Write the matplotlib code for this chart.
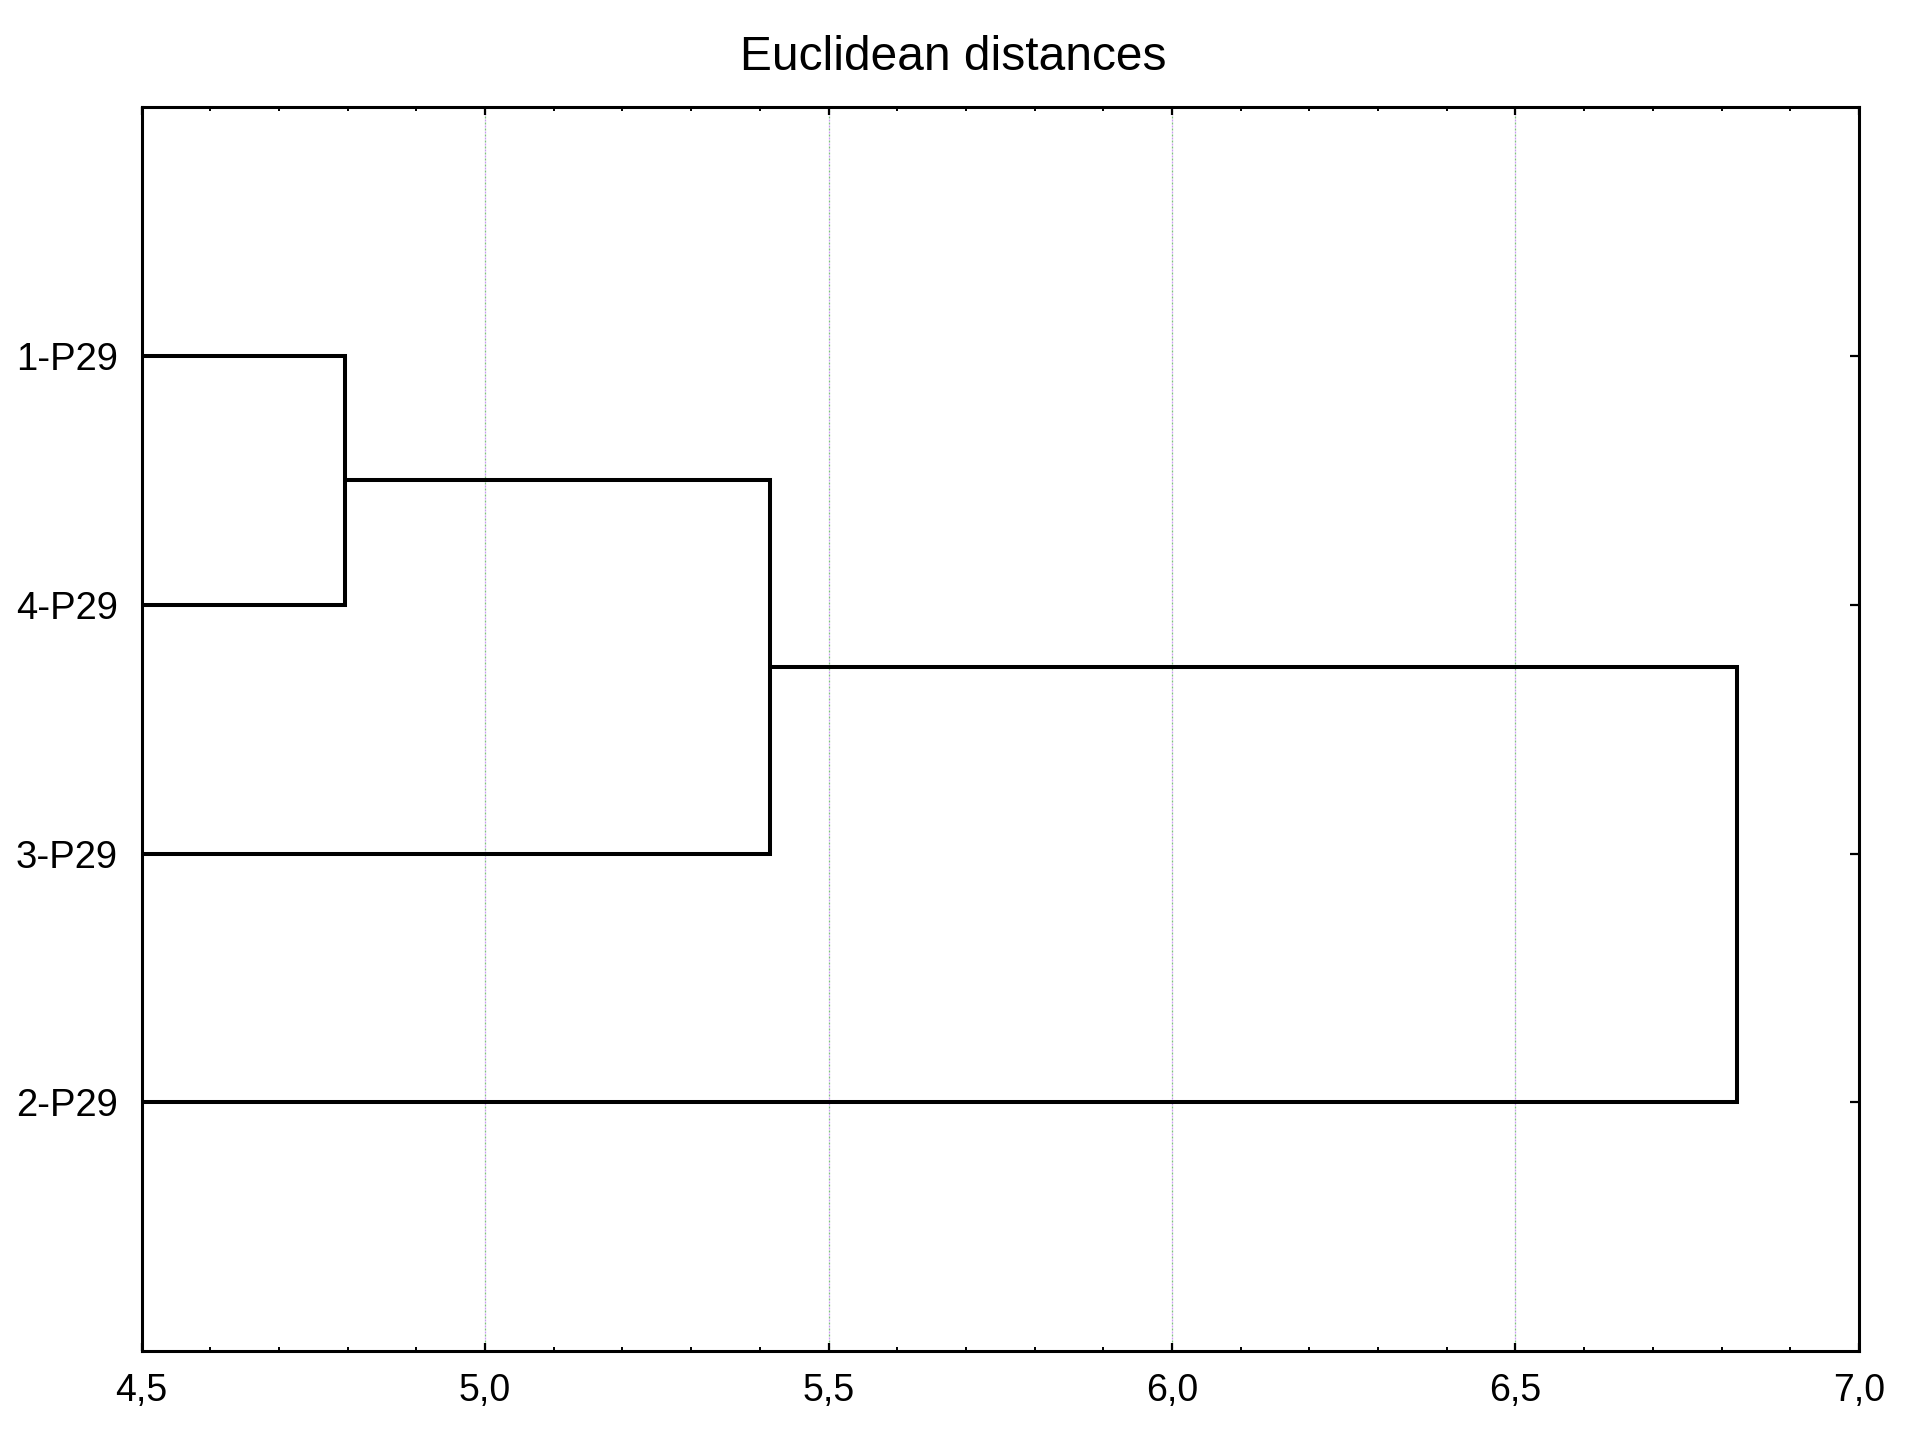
import matplotlib
matplotlib.use("Agg")
import matplotlib.pyplot as plt
from matplotlib.ticker import MultipleLocator, FuncFormatter

plt.rcParams['font.family'] = ['Liberation Sans', 'DejaVu Sans']
plt.rcParams['lines.scale_dashes'] = False

# Leaf labels in the order they appear from top to bottom
leaves = ["1-P29", "4-P29", "3-P29", "2-P29"]

# Linkage steps: (left member, right member, linkage distance)
# members are leaf labels or the index of an earlier step as "c0", "c1", ...
merge_a = ["1-P29", "c0", "c1"]
merge_b = ["4-P29", "3-P29", "2-P29"]
merge_dist = [4.796, 5.415, 6.823]

x_min, x_max = 4.5, 7.0

fig = plt.figure(figsize=(19.06, 14.31), dpi=100)
ax = fig.add_axes([0.0743, 0.0559, 0.9753 - 0.0743, 0.925 - 0.0559])

# position of each node: (distance, y)
pos = {name: (x_min, i + 1) for i, name in enumerate(leaves)}
for i, (a, b, d) in enumerate(zip(merge_a, merge_b, merge_dist)):
    xa, ya = pos[a]
    xb, yb = pos[b]
    ax.plot([xa, d, d, xb], [ya, ya, yb, yb], color="black", lw=2.9,
            solid_joinstyle="miter", solid_capstyle="butt", zorder=3)
    pos["c%d" % i] = (d, (ya + yb) / 2)

# dotted grid at major ticks (purple / green alternating dots)
for gx in [5.0, 5.5, 6.0, 6.5]:
    ax.axvline(gx, color="#c89af0", lw=0.9, linestyle=(0, (1.44, 2.88)), zorder=1)
    ax.axvline(gx, color="#7fbf7f", lw=0.9, linestyle=(2.16, (1.44, 2.88)), zorder=1)

ax.set_xlim(x_min, x_max)
ax.set_ylim(len(leaves) + 1, 0)

ax.xaxis.set_major_locator(MultipleLocator(0.5))
ax.xaxis.set_minor_locator(MultipleLocator(0.1))
ax.xaxis.set_major_formatter(FuncFormatter(lambda v, p: ("%.1f" % v).replace(".", ",")))
ax.set_yticks(range(1, len(leaves) + 1))
ax.set_yticklabels(leaves)

ax.tick_params(axis="x", which="major", direction="in", length=5.5, width=1.6,
               top=True, bottom=True, labelsize=27, pad=16)
ax.tick_params(axis="x", which="minor", direction="in", length=3.2, width=1.4,
               top=True, bottom=True)
ax.tick_params(axis="y", which="major", direction="in", length=6.5, width=1.6,
               left=True, right=True, labelsize=27.5, pad=17)

for sp in ax.spines.values():
    sp.set_linewidth(2.2)

fig.text(0.5, 0.951, "Euclidean distances", ha="center", va="baseline", fontsize=34.5)

fig.savefig("out.png", dpi=100)
